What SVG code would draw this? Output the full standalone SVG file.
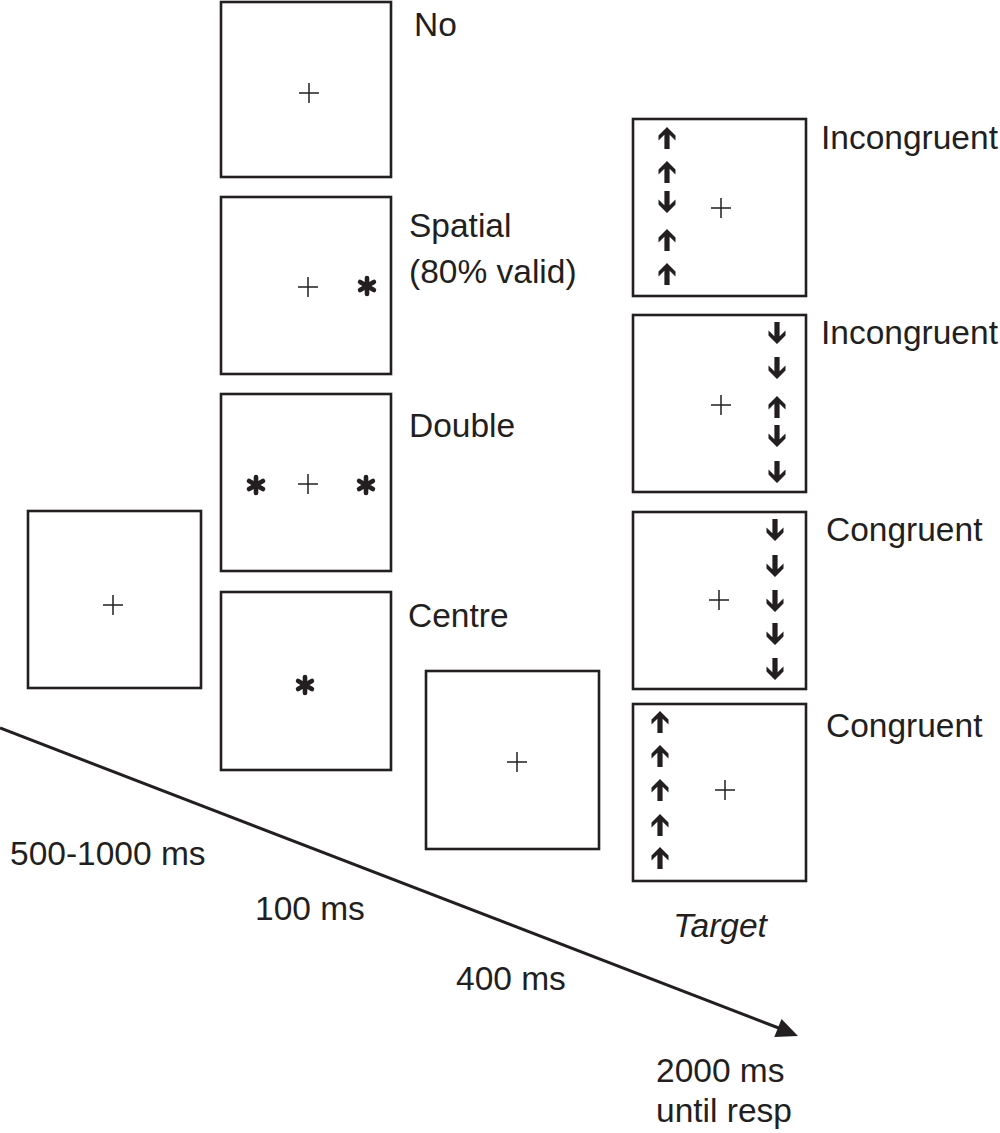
<svg xmlns="http://www.w3.org/2000/svg" xmlns:xlink="http://www.w3.org/1999/xlink" width="1000" height="1133" viewBox="0 0 1000 1133">
<style>
.box{fill:#fff;stroke:#231f20;stroke-width:2.6}
.lbl{font-family:"Liberation Sans",Arial,sans-serif;font-size:33.5px;fill:#231f20}
.fix{stroke:#231f20;stroke-width:1.5;fill:none}
.ast{stroke:#231f20;stroke-width:4.6;stroke-linecap:round;fill:none}
.arr{fill:#231f20}
</style>
<defs>
<path id="plus" d="M-10,0H10M0,-10V10" class="fix"/>
<path id="star" d="M0,-8V8M-6.9,-4L6.9,4M-6.9,4L6.9,-4" class="ast"/>
<path id="up" class="arr" d="M0,-11 L8.5,-2.5 L8.5,2.5 L2.6,-3.2 L2.6,11 L-2.6,11 L-2.6,-3.2 L-8.5,2.5 L-8.5,-2.5 Z"/>
<path id="down" class="arr" d="M0,11 L8.5,2.5 L8.5,-2.5 L2.6,3.2 L2.6,-11 L-2.6,-11 L-2.6,3.2 L-8.5,-2.5 L-8.5,2.5 Z"/>
</defs>
<rect width="1000" height="1133" fill="#fff"/>

<g id="connectors">
<line x1="0" y1="728" x2="780" y2="1028.5" stroke="#231f20" stroke-width="3"/>
<polygon points="798,1036 774.3,1037 781.5,1019" fill="#231f20"/>
</g>

<g id="fixation1">
<rect class="box" x="28" y="511" width="173" height="177"/>
<use xlink:href="#plus" x="113" y="605"/>
</g>

<g id="cue-no">
<rect class="box" x="221" y="2" width="170" height="175"/>
<use xlink:href="#plus" x="309" y="93"/>
<text class="lbl" x="414" y="36">No</text>
</g>
<g id="cue-spatial">
<rect class="box" x="221" y="197" width="170" height="177"/>
<use xlink:href="#plus" x="308" y="287"/>
<use xlink:href="#star" x="367" y="286"/>
<text class="lbl" x="409" y="237">Spatial</text>
<text class="lbl" x="409" y="283">(80% valid)</text>
</g>
<g id="cue-double">
<rect class="box" x="221" y="394" width="170" height="177"/>
<use xlink:href="#plus" x="308" y="484"/>
<use xlink:href="#star" x="256" y="485"/>
<use xlink:href="#star" x="366" y="485"/>
<text class="lbl" x="409" y="437">Double</text>
</g>
<g id="cue-centre">
<rect class="box" x="221" y="592" width="170" height="178"/>
<use xlink:href="#star" x="305" y="685"/>
<text class="lbl" x="408" y="627">Centre</text>
</g>

<g id="fixation2">
<rect class="box" x="426" y="671" width="173" height="178"/>
<use xlink:href="#plus" x="517" y="762"/>
</g>

<g id="target-1">
<rect class="box" x="633" y="119" width="173" height="177"/>
<use xlink:href="#plus" x="721" y="208"/>
<use xlink:href="#up" x="667" y="138"/>
<use xlink:href="#up" x="667" y="172"/>
<use xlink:href="#down" x="667" y="202"/>
<use xlink:href="#up" x="667" y="240"/>
<use xlink:href="#up" x="667" y="274"/>
<text class="lbl" x="821" y="149">Incongruent</text>
</g>
<g id="target-2">
<rect class="box" x="633" y="315" width="173" height="177"/>
<use xlink:href="#plus" x="721" y="405"/>
<use xlink:href="#down" x="777" y="333"/>
<use xlink:href="#down" x="777" y="368"/>
<use xlink:href="#up" x="777" y="407"/>
<use xlink:href="#down" x="777" y="436"/>
<use xlink:href="#down" x="777" y="472"/>
<text class="lbl" x="821" y="344">Incongruent</text>
</g>
<g id="target-3">
<rect class="box" x="633" y="512" width="173" height="177"/>
<use xlink:href="#plus" x="719" y="600"/>
<use xlink:href="#down" x="775" y="530"/>
<use xlink:href="#down" x="775" y="566"/>
<use xlink:href="#down" x="775" y="601"/>
<use xlink:href="#down" x="775" y="634"/>
<use xlink:href="#down" x="775" y="669"/>
<text class="lbl" x="826" y="541">Congruent</text>
</g>
<g id="target-4">
<rect class="box" x="633" y="704" width="173" height="177"/>
<use xlink:href="#plus" x="725" y="790"/>
<use xlink:href="#up" x="660" y="722"/>
<use xlink:href="#up" x="660" y="756"/>
<use xlink:href="#up" x="660" y="790"/>
<use xlink:href="#up" x="660" y="825"/>
<use xlink:href="#up" x="660" y="858"/>
<text class="lbl" x="826" y="737">Congruent</text>
</g>

<g id="timings">
<text class="lbl" x="720" y="937" text-anchor="middle" font-style="italic">Target</text>
<text class="lbl" x="10" y="865">500-1000 ms</text>
<text class="lbl" x="255" y="920">100 ms</text>
<text class="lbl" x="456" y="990">400 ms</text>
<text class="lbl" x="656" y="1082">2000 ms</text>
<text class="lbl" x="656" y="1122">until resp</text>
</g>
</svg>
